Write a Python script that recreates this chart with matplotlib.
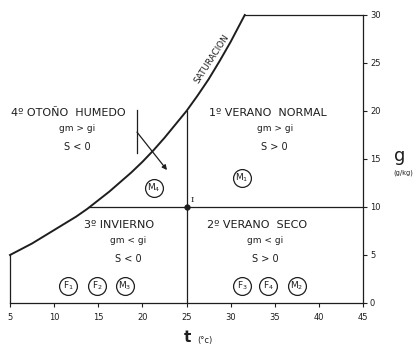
import matplotlib
matplotlib.use("Agg")
import matplotlib.pyplot as plt

# Saturation curve (temperature °C, humidity g/kg)
sat_t = [5, 6.25, 7.5, 8.75, 10, 11.25, 12.5, 13.75, 15, 16.25, 17.5, 18.75, 20,
         21.25, 22.5, 23.75, 25, 26.25, 27.5, 28.75, 30, 31.6]
sat_g = [5.0, 5.6, 6.2, 6.9, 7.6, 8.3, 9.0, 9.8, 10.7, 11.6, 12.6, 13.6, 14.7,
         15.9, 17.2, 18.6, 20.0, 21.6, 23.3, 25.2, 27.2, 30.0]

# Reference point I
ref_t = 25
ref_g = 10

# Axis ticks
x_ticks = [5, 10, 15, 20, 25, 30, 35, 40, 45]
y_ticks = [0, 5, 10, 15, 20, 25, 30]

# Zone labels: (title, condition 1, condition 2, t, g)
zone_titles = ["4º OTOÑO  HUMEDO", "1º VERANO  NORMAL", "3º INVIERNO", "2º VERANO  SECO"]
zone_cond1 = ["gm > gi", "gm > gi", "gm < gi", "gm < gi"]
zone_cond2 = ["S < 0", "S > 0", "S < 0", "S > 0"]
zone_t = [11.6, 34.2, 17.35, 33.0]
zone_t_cond = [12.6, 35.0, 18.4, 33.9]
zone_g = [19.8, 8.1]

# Circled sample points
pt_names = ["F$_1$", "F$_2$", "M$_3$", "F$_3$", "F$_4$", "M$_2$", "M$_4$", "M$_1$"]
pt_t = [11.57, 14.86, 18.03, 31.29, 34.24, 37.5, 21.3, 31.3]
pt_g = [1.77, 1.77, 1.77, 1.77, 1.77, 1.77, 12.0, 13.0]

ink = "#1e1e1e"
fig = plt.figure(figsize=(4.16, 3.47), dpi=100)
ax = fig.add_axes([10 / 416, 44 / 347, 353 / 416, 288 / 347])
ax.set_xlim(5, 45)
ax.set_ylim(0, 30)
for s in ["left", "top"]:
    ax.spines[s].set_visible(False)
for s in ["right", "bottom"]:
    ax.spines[s].set_linewidth(0.9)
    ax.spines[s].set_color(ink)
ax.yaxis.tick_right()
ax.set_xticks(x_ticks)
ax.set_yticks(y_ticks)
ax.tick_params(axis="both", direction="out", length=3, width=0.8, colors=ink,
               labelsize=6)
ax.tick_params(axis="x", pad=4.5)
ax.tick_params(axis="y", pad=2)

# outline of the chart
ax.plot([5, 5], [0, sat_g[0]], color=ink, lw=0.9, clip_on=False)
ax.plot([sat_t[-1], 45], [30, 30], color=ink, lw=0.9, clip_on=False)
ax.plot(sat_t, sat_g, color=ink, lw=1.4, clip_on=False, solid_joinstyle="round")
ax.plot([ref_t, ref_t], [0, 20.0], color=ink, lw=0.9)
ax.plot([14.0, 45], [ref_g, ref_g], color=ink, lw=0.9)
ax.plot([ref_t], [ref_g], "o", color=ink, ms=3.5)
ax.text(25.7, 10.7, "I", fontsize=6, family="DejaVu Serif", color=ink,
        ha="center", va="center")

# saturation label
ax.text(27.8, 25.4, "SATURACION", fontsize=6.3, rotation=57, color=ink,
        ha="center", va="center")

# zone labels
for i in range(4):
    g0 = zone_g[i // 2]
    ax.text(zone_t[i], g0, zone_titles[i], fontsize=8, color=ink,
            ha="center", va="center")
    ax.text(zone_t_cond[i], g0 - 1.6, zone_cond1[i], fontsize=6.5, color=ink,
            ha="center", va="center")
    ax.text(zone_t_cond[i], g0 - 3.5, zone_cond2[i], fontsize=7, color=ink,
            ha="center", va="center")

# circled points
ax.scatter(pt_t, pt_g, s=165, facecolors="white", edgecolors=ink, linewidths=0.9,
           zorder=3)
for n, t, g in zip(pt_names, pt_t, pt_g):
    ax.text(t, g, n, fontsize=6.5, color=ink, ha="center", va="center", zorder=4)

# direction arrow
ax.plot([19.39, 19.39], [20.1, 15.6], color=ink, lw=0.9)
ax.annotate("", xy=(22.79, 13.85), xytext=(19.39, 17.8),
            arrowprops=dict(arrowstyle="-|>", color=ink, lw=0.9,
                            mutation_scale=7, shrinkA=0, shrinkB=0))

# axis titles
fig.text(400 / 416, 1 - 156 / 347, "g", fontsize=13, color=ink,
         ha="center", va="center")
fig.text(403 / 416, 1 - 173 / 347, "(g/kg)", fontsize=4.8, color=ink,
         ha="center", va="center")
fig.text(187 / 416, 1 - 338 / 347, "t", fontsize=11, color=ink,
         ha="center", va="center", fontweight="bold")
fig.text(205 / 416, 1 - 340 / 347, "(°c)", fontsize=6, color=ink,
         ha="center", va="center")

fig.savefig("out.png", dpi=100, facecolor="white")
